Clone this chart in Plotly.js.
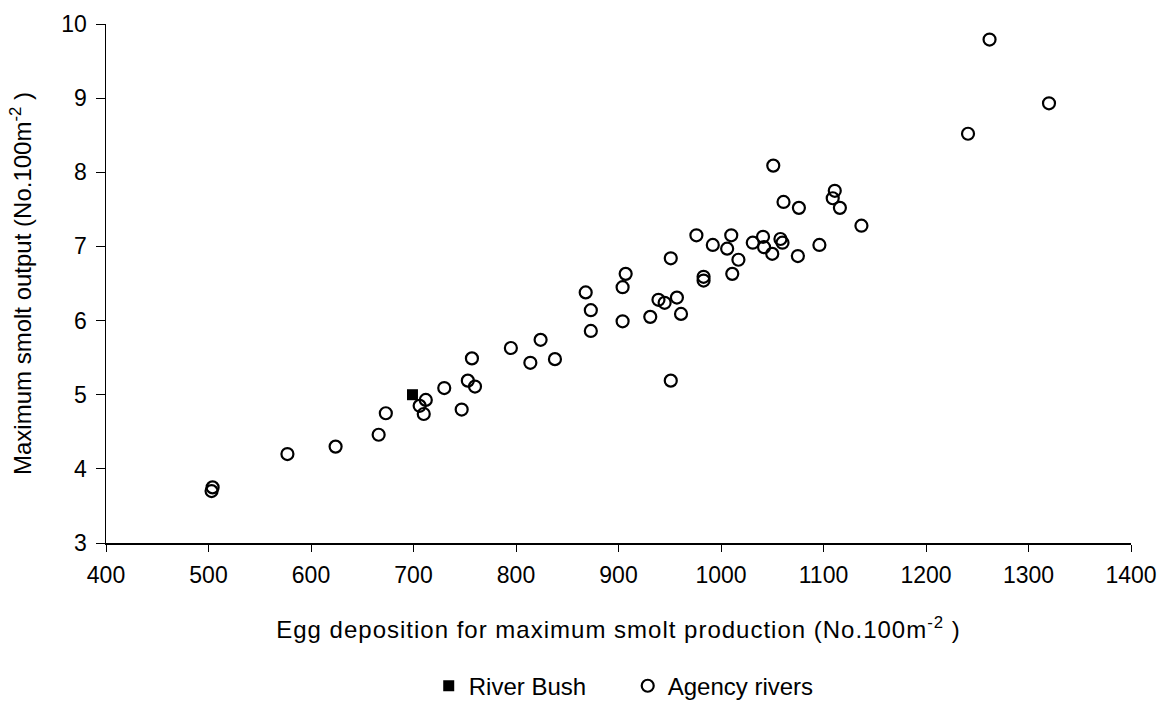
<!DOCTYPE html>
<html>
<head>
<meta charset="utf-8">
<script src="https://cdn.plot.ly/plotly-3.0.1.min.js"></script>
<style>
html,body{margin:0;padding:0;background:#fff;}
#chart{width:1169px;height:703px;}
.xtitle{letter-spacing:1px;}
</style>
</head>
<body>
<div id="chart"></div>
<script>
const riverBushEggs = [699];
const riverBushSmolts = [5.0];

const agencyEggs = [503, 504, 577, 624, 666, 673, 706, 710, 712, 730, 747, 753, 757, 760,
  795, 814, 824, 838, 868, 873, 873, 904, 907, 904, 931, 939, 945, 957, 961, 951, 951,
  976, 983, 983, 992, 1006, 1010, 1017, 1011, 1031, 1041, 1042, 1050, 1058, 1060,
  1051, 1061, 1076, 1075, 1096, 1111, 1109, 1116, 1137, 1241, 1262, 1320];
const agencySmolts = [3.70, 3.75, 4.20, 4.30, 4.46, 4.75, 4.85, 4.74, 4.93, 5.09, 4.80, 5.19, 5.49, 5.11,
  5.63, 5.43, 5.74, 5.48, 6.38, 6.14, 5.86, 6.45, 6.63, 5.99, 6.05, 6.28, 6.24, 6.31, 6.09, 6.84, 5.19,
  7.15, 6.59, 6.54, 7.02, 6.97, 7.15, 6.82, 6.63, 7.05, 7.13, 6.99, 6.90, 7.10, 7.05,
  8.09, 7.60, 7.52, 6.87, 7.02, 7.75, 7.65, 7.52, 7.28, 8.52, 9.79, 8.93];

const xTicks = [400, 500, 600, 700, 800, 900, 1000, 1100, 1200, 1300, 1400];
const yTicks = [3, 4, 5, 6, 7, 8, 9, 10];

const fam = 'Liberation Sans, Arial, sans-serif';
const tickFont = {family: fam, size: 23, color: '#000'};
const titleFont = {family: fam, size: 24, color: '#000'};
const legendFont = {family: fam, size: 24, color: '#000'};

const traces = [
  {x: riverBushEggs, y: riverBushSmolts, name: 'River Bush', type: 'scatter', mode: 'markers',
   marker: {symbol: 'square', size: 11, color: '#000'}},
  {x: agencyEggs, y: agencySmolts, name: 'Agency rivers', type: 'scatter', mode: 'markers',
   marker: {symbol: 'circle-open', size: 12, color: '#000', line: {width: 2.2, color: '#000'}}}
];

const layout = {
  width: 1169, height: 703,
  margin: {l: 106, r: 38, t: 24, b: 160},
  paper_bgcolor: '#fff', plot_bgcolor: '#fff',
  font: tickFont,
  showlegend: true,
  legend: {orientation: 'h', x: 0.509, xanchor: 'center', entrywidth: 154,
           yref: 'container', y: 0.024, yanchor: 'middle', font: legendFont},
  xaxis: {range: [400, 1400], tickvals: xTicks, ticktext: xTicks.map(String),
    showline: true, linecolor: '#000', linewidth: 1.5, ticks: 'outside', ticklen: 7, tickcolor: '#000',
    ticklabelstandoff: 4,
    showgrid: false, zeroline: false, tickfont: tickFont, automargin: false,
    title: {text: 'Egg deposition for maximum smolt production (No.100m<sup>-2</sup> )', font: titleFont, standoff: 34}},
  yaxis: {range: [3, 10], tickvals: yTicks, ticktext: yTicks.map(String),
    showline: true, linecolor: '#000', linewidth: 1.5, ticks: 'outside', ticklen: 9, tickcolor: '#000',
    ticklabelstandoff: 4,
    showgrid: false, zeroline: false, tickfont: tickFont, automargin: false,
    title: {text: 'Maximum smolt output (No.100m<sup>-2</sup> )', font: titleFont, standoff: 23}}
};

Plotly.newPlot('chart', traces, layout, {displayModeBar: false, staticPlot: true});
</script>
</body>
</html>
